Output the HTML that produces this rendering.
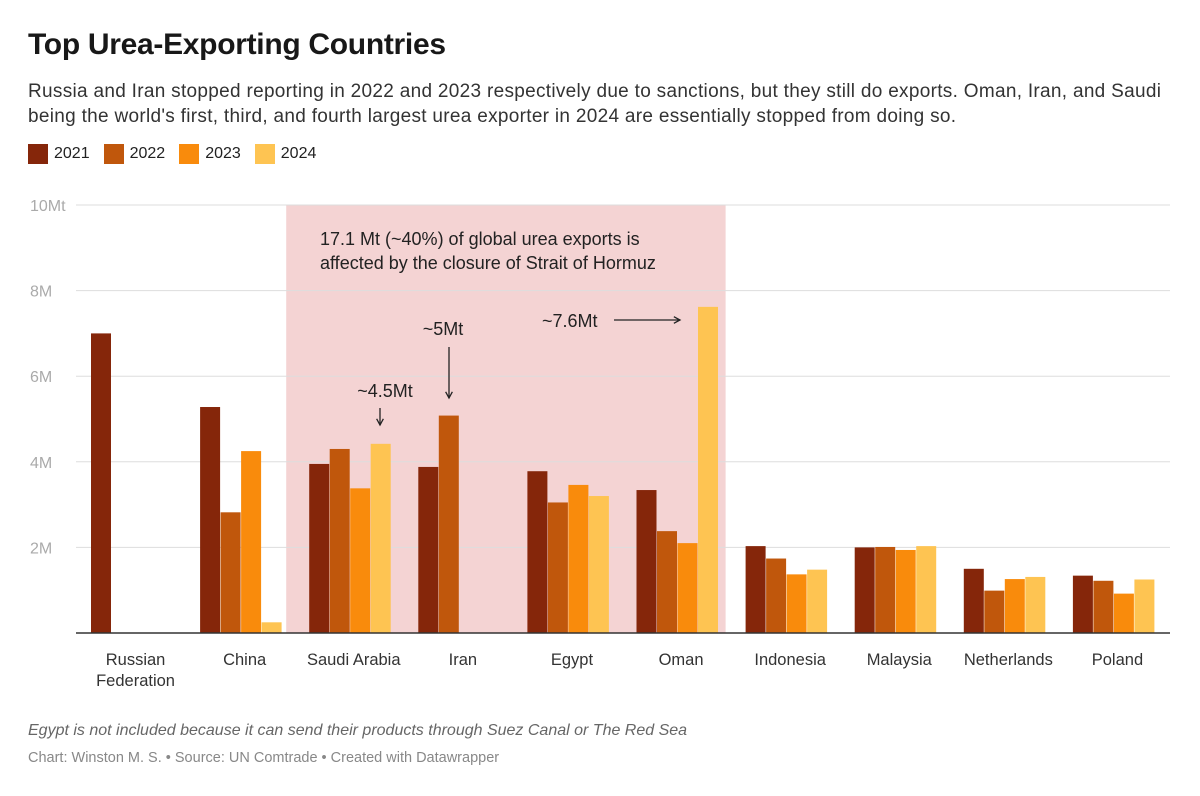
<!DOCTYPE html>
<html><head><meta charset="utf-8">
<style>
body{margin:0;width:1200px;height:796px;background:#fff;font-family:"Liberation Sans",sans-serif;overflow:hidden;position:relative}
h1{position:absolute;left:28px;top:28px;margin:0;font-size:30px;font-weight:bold;color:#181818;letter-spacing:-0.3px}
.sub{position:absolute;left:28px;top:79px;width:1150px;font-size:19px;letter-spacing:0.3px;line-height:25px;color:#333}
.legend{position:absolute;left:28px;top:144px;font-size:16px;color:#222;display:flex;gap:14px}
.legend span{display:flex;align-items:center}
.legend i{display:inline-block;width:20px;height:20px;margin-right:6px}
.note{position:absolute;left:28px;top:722px;font-size:16px;font-style:italic;color:#666}
.src{position:absolute;left:28px;top:750px;font-size:14.5px;color:#888}
svg{position:absolute;left:0;top:0}
</style></head><body>
<h1>Top Urea-Exporting Countries</h1>
<div class="sub">Russia and Iran stopped reporting in 2022 and 2023 respectively due to sanctions, but they still do exports. Oman, Iran, and Saudi being the world's first, third, and fourth largest urea exporter in 2024 are essentially stopped from doing so.</div>
<div class="legend">
<span><i style="background:#85260a"></i>2021</span>
<span><i style="background:#c0570c"></i>2022</span>
<span><i style="background:#f98b0c"></i>2023</span>
<span><i style="background:#fec452"></i>2024</span>
</div>
<svg id="chart" width="1200" height="796"></svg>
<div class="note">Egypt is not included because it can send their products through Suez Canal or The Red Sea</div>
<div class="src">Chart: Winston M. S. • Source: UN Comtrade • Created with Datawrapper</div>
<script>
const categories=["Russian|Federation","China","Saudi Arabia","Iran","Egypt","Oman","Indonesia","Malaysia","Netherlands","Poland"];
const v2021=[7.0,5.28,3.95,3.88,3.78,3.34,2.03,2.0,1.5,1.34];
const v2022=[null,2.82,4.3,5.08,3.05,2.38,1.74,2.01,0.99,1.22];
const v2023=[null,4.25,3.38,null,3.46,2.1,1.37,1.94,1.26,0.92];
const v2024=[null,0.25,4.42,null,3.2,7.62,1.48,2.03,1.31,1.25];
const tickValues=[2,4,6,8,10];
const tickLabels=["2M","4M","6M","8M","10Mt"];
const series=[v2021,v2022,v2023,v2024];
const colors=["#85260a","#c0570c","#f98b0c","#fec452"];
const NS="http://www.w3.org/2000/svg";
const svg=document.getElementById('chart');
const x0=79,x1=1170,y0=633,yTop=205,yMax=10;
const band=(x1-x0)/categories.length,bw=20.5,pad=12;
const y=v=>y0-(v/yMax)*(y0-yTop);
const bx=(i,s)=>x0+i*band+pad+s*bw;
function mk(t,a,txt){const e=document.createElementNS(NS,t);for(const k in a)e.setAttribute(k,a[k]);if(txt!=null)e.textContent=txt;svg.appendChild(e);return e;}
const hx0=x0+2*band-11,hx1=x0+6*band-8;
let hl=mk('rect',{x:hx0,y:yTop,width:hx1-hx0,height:y0-yTop,fill:"#f4d3d3"});


tickValues.forEach((t,i)=>{
 let g=mk('line',{x1:x0-3,x2:x1,y1:y(t),y2:y(t),stroke:"#dddddd","stroke-width":1});
 
 
 let l=mk('text',{x:30,y:y(t)+6,fill:"#aaaaaa","font-size":16},tickLabels[i]);
 
 
});
series.forEach((arr,s)=>arr.forEach((v,i)=>{
 if(v==null)return;
 let r=mk('rect',{x:bx(i,s),y:y(v),width:bw-0.5,height:y0-y(v),fill:colors[s]});
 
 
}));
let ax=mk('line',{x1:x0-3,x2:x1,y1:y0,y2:y0,stroke:"#333","stroke-width":1.5});


categories.forEach((c,i)=>{
 c.split('|').forEach((p,j)=>{
  let t=mk('text',{x:x0+i*band+band/2+2,y:665+j*21,"text-anchor":"middle","font-size":16.5,fill:"#333"},p);
  
  
 });
});
function ann(x,yy,s,anchor){let t=mk('text',{x:x,y:yy,"font-size":18,fill:"#222","text-anchor":anchor||"start"},s);}
ann(320,245,"17.1 Mt (~40%) of global urea exports is");
ann(320,269,"affected by the closure of Strait of Hormuz");
ann(385,397,"~4.5Mt","middle");
ann(443,335,"~5Mt","middle");
ann(542,327,"~7.6Mt");
function arrow(xa,ya,xb,yb){let l=mk('line',{x1:xa,y1:ya,x2:xb,y2:yb,stroke:"#222","stroke-width":1.3});
 const ang=Math.atan2(yb-ya,xb-xa),h=7;
 mk('path',{d:`M${xb-h*Math.cos(ang-0.5)},${yb-h*Math.sin(ang-0.5)}L${xb},${yb}L${xb-h*Math.cos(ang+0.5)},${yb-h*Math.sin(ang+0.5)}`,stroke:"#222",fill:"none","stroke-width":1.3});}
arrow(380,408,380,425);
arrow(449,347,449,398);
arrow(614,320,680,320);
</script>
</body></html>
